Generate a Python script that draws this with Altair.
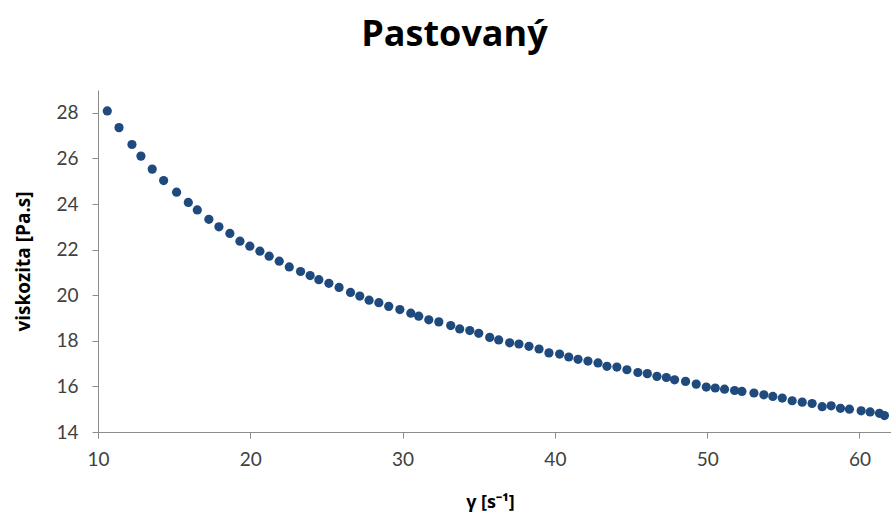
import altair as alt
import pandas as pd

shear_rate = [10.61, 11.38, 12.23, 12.82, 13.56, 14.31, 15.16, 15.93, 16.52, 17.28,
              17.94, 18.66, 19.32, 19.97, 20.63, 21.24, 21.90, 22.56, 23.30, 23.93,
              24.50, 25.16, 25.83, 26.58, 27.19, 27.80, 28.44, 29.09, 29.82, 30.54,
              31.06, 31.72, 32.38, 33.16, 33.75, 34.41, 35.00, 35.72, 36.31, 37.03,
              37.64, 38.30, 38.96, 39.61, 40.31, 40.91, 41.52, 42.17, 42.83, 43.42,
              44.07, 44.73, 45.45, 46.07, 46.70, 47.32, 47.86, 48.58, 49.28, 49.94,
              50.53, 51.14, 51.80, 52.28, 53.07, 53.72, 54.31, 54.93, 55.58, 56.24,
              56.89, 57.55, 58.14, 58.75, 59.34, 60.11, 60.70, 61.31, 61.64]
viscosity = [28.08, 27.35, 26.61, 26.10, 25.53, 25.03, 24.52, 24.07, 23.74, 23.33,
             23.00, 22.71, 22.37, 22.15, 21.93, 21.71, 21.49, 21.24, 21.04, 20.86,
             20.68, 20.52, 20.34, 20.12, 19.96, 19.78, 19.67, 19.51, 19.37, 19.21,
             19.08, 18.92, 18.83, 18.67, 18.52, 18.45, 18.33, 18.15, 18.04, 17.91,
             17.86, 17.76, 17.64, 17.47, 17.42, 17.29, 17.19, 17.11, 17.03, 16.88,
             16.85, 16.73, 16.61, 16.56, 16.44, 16.39, 16.29, 16.22, 16.10, 15.97,
             15.93, 15.88, 15.82, 15.78, 15.71, 15.63, 15.56, 15.49, 15.37, 15.31,
             15.25, 15.11, 15.15, 15.04, 15.00, 14.93, 14.88, 14.82, 14.72]
x_ticks = [10, 20, 30, 40, 50, 60]
y_ticks = [14, 16, 18, 20, 22, 24, 26, 28]

df = pd.DataFrame({"x": shear_rate, "y": viscosity})

FONT = "Lato"
TFONT = "Open Sans"

chart = alt.Chart(df).mark_circle(size=85, opacity=1, color="#1F4A7E", clip=False).encode(
    x=alt.X("x:Q", scale=alt.Scale(domain=[10, 62.07], nice=False, zero=False),
            axis=alt.Axis(values=x_ticks, title="γ [s⁻¹]", grid=False, tickSize=6,
                          labelPadding=12, titlePadding=24, labelFontSize=19,
                          titleFontSize=18, titleFontWeight="bold", labelColor="#404040",
                          titleColor="#000000", domainColor="#8c8c8c", tickColor="#8c8c8c",
                          labelFont=FONT, titleFont=TFONT, labelFlush=False, titleX=392)),
    y=alt.Y("y:Q", scale=alt.Scale(domain=[14, 29], nice=False, zero=False),
            axis=alt.Axis(values=y_ticks, title="viskozita [Pa.s]", grid=False, tickSize=6,
                          labelPadding=14, titlePadding=22, labelFontSize=19,
                          titleFontSize=19, titleFontWeight="bold", labelColor="#404040",
                          titleColor="#000000", domainColor="#8c8c8c", tickColor="#8c8c8c",
                          labelFont=FONT, titleFont=TFONT)),
).properties(
    width=793,
    height=342,
    title=alt.TitleParams("Pastovaný", fontSize=36, fontWeight="bold", font=TFONT,
                          anchor="middle", dx=-40, offset=36, color="#000000"),
    autosize=alt.AutoSizeParams(type="none"),
    padding={"left": 98, "top": 90, "right": 0, "bottom": 95},
).configure_view(stroke=None)

chart.save("out.html", embed_options={"renderer": "svg", "actions": False})
